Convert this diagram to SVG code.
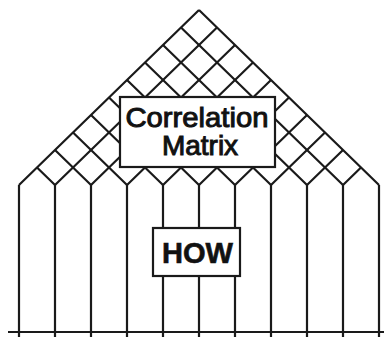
<svg xmlns="http://www.w3.org/2000/svg" width="384" height="337" viewBox="0 0 384 337">
<style>
.ln{stroke:#1a1a1a;stroke-width:2.2;fill:none;stroke-linecap:butt;stroke-linejoin:miter}
.box{fill:#fff;stroke:#1a1a1a;stroke-width:2.2}
.lbl{font-family:"Liberation Sans",Arial,sans-serif;fill:#111;stroke:#111;stroke-width:1;text-anchor:middle}
.hw{stroke-width:0.6}
</style>
<rect width="384" height="337" fill="#fff"/>
<g id="roof" class="ln">
<path d="M19,185 L199,10 M55,185 L217,27.5 M91,185 L235,45 M127,185 L253,62.5 M163,185 L271,80 M199,185 L289,97.5 M235,185 L307,115 M271,185 L325,132.5 M307,185 L343,150 M343,185 L361,167.5"/>
<path d="M55,185 L37,167.5 M91,185 L55,150 M127,185 L73,132.5 M163,185 L91,115 M199,185 L109,97.5 M235,185 L127,80 M271,185 L145,62.5 M307,185 L163,45 M343,185 L181,27.5 M379,185 L199,10"/>
</g>
<g id="columns" class="ln">
<path d="M19,185 V337 M55,185 V337 M91,185 V337 M127,185 V337 M163,185 V337 M199,185 V337 M235,185 V337 M271,185 V337 M307,185 V337 M343,185 V337 M379,185 V337"/>
<path d="M8,332 H384"/>
</g>
<g id="correlation-matrix">
<rect class="box" x="120" y="97" width="155" height="70"/>
<text class="lbl" x="197" y="127" font-size="28" textLength="143" lengthAdjust="spacingAndGlyphs">Correlation</text>
<text class="lbl" x="200" y="155" font-size="28">Matrix</text>
</g>
<g id="how">
<rect class="box" x="153" y="228" width="87" height="48"/>
<text class="lbl hw" x="197.5" y="263" font-size="29" font-weight="bold" textLength="71" lengthAdjust="spacingAndGlyphs">HOW</text>
</g>
</svg>
